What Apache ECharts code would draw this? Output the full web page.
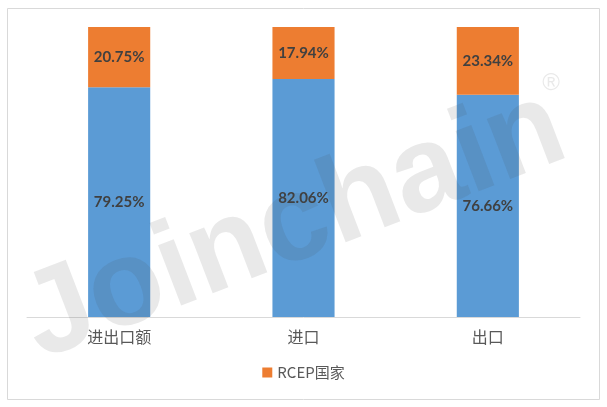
<!DOCTYPE html>
<html><head><meta charset="utf-8">
<script src="https://cdn.jsdelivr.net/npm/echarts@6/dist/echarts.min.js"></script>
<style>html,body{margin:0;padding:0;background:#fff}#c{width:607px;height:407px}</style>
</head><body><div id="c"></div>
<script>
const categories = ['进出口额', '进口', '出口'];
const otherShare = [79.25, 82.06, 76.66];
const rcepShare = [20.75, 17.94, 23.34];
const legendItems = ['RCEP国家'];

const chart = echarts.init(document.getElementById('c'), null, {renderer: 'canvas'});
const labelStyle = {show: true, position: 'inside', color: '#404040', fontFamily: 'Lato', fontWeight: 'bold', fontSize: 15,
  formatter: p => p.value.toFixed(2) + '%'};
chart.setOption({
  animation: false,
  backgroundColor: '#fff',
  grid: {left: 27, right: 27, top: 27, bottom: 90, containLabel: false},
  legend: {data: legendItems, bottom: 22, left: 'center', itemWidth: 10, itemHeight: 10, icon: 'rect', itemGap: 8,
    textStyle: {color: '#595959', fontSize: 15, fontFamily: 'Noto Sans CJK SC'}},
  xAxis: {type: 'category', data: categories,
    axisLine: {lineStyle: {color: '#d9d9d9', width: 1}}, axisTick: {show: false},
    axisLabel: {color: '#595959', fontSize: 16, margin: 12, fontFamily: 'Noto Sans CJK SC'}},
  yAxis: {type: 'value', min: 0, max: 100, show: false, splitLine: {show: false}},
  series: [
    {name: '非RCEP国家', type: 'bar', stack: 's', data: otherShare, barWidth: '33.7%', itemStyle: {color: '#5b9bd5'}, label: labelStyle},
    {name: 'RCEP国家', type: 'bar', stack: 's', data: rcepShare, barWidth: '33.7%', itemStyle: {color: '#ed7d31'}, label: labelStyle}
  ],
  graphic: [
    {type: 'rect', shape: {x: 7.5, y: 8.5, width: 592, height: 391}, style: {fill: 'none', stroke: '#d9d9d9', lineWidth: 1}, z: 0, silent: true},
    {type: 'text', x: 294, y: 226, rotation: 21 * Math.PI / 180, z: 100, silent: true,
      style: {text: 'Joinchain', fontSize: 122, fontWeight: 'bold', fontFamily: 'Liberation Sans', fill: 'rgba(70,70,70,0.12)', align: 'center', verticalAlign: 'middle'}},
    {type: 'text', x: 551, y: 83, z: 100, silent: true,
      style: {text: '®', fontSize: 24, fontFamily: 'Liberation Sans', fill: 'rgba(70,70,70,0.12)', align: 'center', verticalAlign: 'middle'}}
  ]
});
</script></body></html>
